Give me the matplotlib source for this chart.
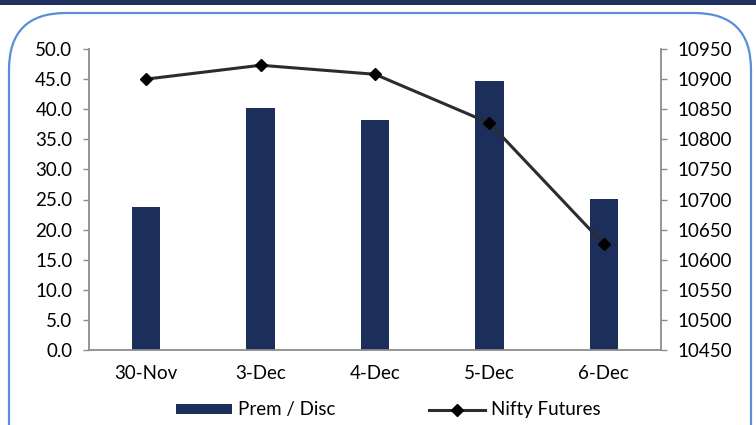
import matplotlib
matplotlib.use("Agg")
import matplotlib.pyplot as plt
from matplotlib.patches import FancyBboxPatch, Rectangle
from matplotlib.lines import Line2D

categories = ["30-Nov", "3-Dec", "4-Dec", "5-Dec", "6-Dec"]
prem_disc = [23.8, 40.2, 38.2, 44.7, 25.1]
nifty_futures = [10900, 10923, 10908, 10827, 10626]
left_ticks = [0, 5, 10, 15, 20, 25, 30, 35, 40, 45, 50]
right_ticks = [10450, 10500, 10550, 10600, 10650, 10700, 10750, 10800, 10850, 10900, 10950]

plt.rcParams['font.family'] = ['Lato', 'DejaVu Sans']
FS = 13.5
W, H = 756, 425
fig = plt.figure(figsize=(W/100, H/100), dpi=100)
fig.patch.set_facecolor("white")

# top navy band
fig.add_artist(Rectangle((0, 1 - 5/H), 1, 5/H, transform=fig.transFigure,
                         facecolor="#1F3060", edgecolor="none"))
# rounded border
fig.add_artist(FancyBboxPatch((9/W, -0.2), (W - 5)/W - 9/W, 1 - 13/H + 0.2,
                              boxstyle="round,pad=0,rounding_size=0.075",
                              transform=fig.transFigure, facecolor="none",
                              edgecolor="#5B8ED8", linewidth=1.6, mutation_aspect=W/H))

ax = fig.add_axes([89/W, 1 - 350/H, 572/W, 301/H])
x = list(range(len(categories)))
ax.bar(x, prem_disc, width=0.25, color="#1C2E5A", zorder=2, label="Prem / Disc")
ax.set_xlim(-0.5, len(categories) - 0.5)
ax.set_ylim(0, 50)
ax.set_yticks(left_ticks)
ax.set_yticklabels([f"{v:.1f}" for v in left_ticks])
ax.set_xticks(x)
ax.set_xticklabels(categories)
ax.tick_params(axis="x", length=0, pad=11, labelsize=FS, colors="black")
ax.tick_params(axis="y", length=4, width=1, color="#8C8C8C", labelsize=FS, pad=8)
for s in ["top", "right"]:
    ax.spines[s].set_visible(False)
for s in ["left", "bottom"]:
    ax.spines[s].set_color("#8C8C8C")
    ax.spines[s].set_linewidth(1.3)

ax2 = ax.twinx()
ax2.plot(x, nifty_futures, color="#2B2B33", linewidth=2.2, marker="D", markersize=6,
         markerfacecolor="black", markeredgecolor="black", zorder=3, label="Nifty Futures")
ax2.set_ylim(10450, 10950)
ax2.set_yticks(right_ticks)
ax2.set_yticklabels([str(v) for v in right_ticks])
ax2.tick_params(axis="y", length=4, width=1, color="#8C8C8C", labelsize=FS, pad=8)
for s in ["top", "left", "bottom"]:
    ax2.spines[s].set_visible(False)
ax2.spines["right"].set_color("#8C8C8C")
ax2.spines["right"].set_linewidth(1.3)

handles = [Rectangle((0, 0), 1, 1, facecolor="#1C2E5A"),
           Line2D([0], [0], color="#2B2B33", linewidth=2.2, marker="D", markersize=6,
                  markerfacecolor="black", markeredgecolor="black")]
fig.legend(handles, ["Prem / Disc", "Nifty Futures"], loc="center",
           bbox_to_anchor=(388/W, 1 - 410/H), ncol=2, frameon=False, fontsize=FS,
           handlelength=3.0, handleheight=0.45, columnspacing=5.0, handletextpad=0.3)

fig.savefig("out.png", dpi=100)
